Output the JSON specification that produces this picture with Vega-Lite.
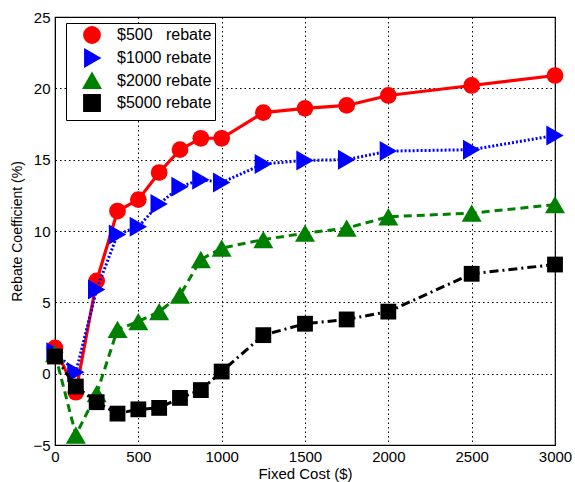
{
  "$schema": "https://vega.github.io/schema/vega-lite/v6.json",
  "width": 500,
  "height": 428,
  "autosize": {"type": "none"},
  "padding": {"left": 55, "top": 17, "right": 20, "bottom": 37},
  "background": "white",
  "config": {
    "font": "Liberation Sans",
    "view": {"stroke": "black", "strokeWidth": 1.2},
    "axis": {
      "labelFont": "Liberation Sans",
      "titleFont": "Liberation Sans",
      "labelFontSize": 15,
      "titleFontSize": 15,
      "titleFontWeight": "normal",
      "labelColor": "black",
      "titleColor": "black",
      "domainColor": "black",
      "tickColor": "black",
      "grid": true,
      "gridColor": "black",
      "gridDash": [1.5, 3],
      "gridOpacity": 1,
      "gridWidth": 1,
      "tickSize": 0
    }
  },
  "data": {
    "values": [
      {"series": "$500 rebate", "cost": 0, "coef": 1.8},
      {"series": "$500 rebate", "cost": 125, "coef": -1.3},
      {"series": "$500 rebate", "cost": 250, "coef": 6.5},
      {"series": "$500 rebate", "cost": 375, "coef": 11.4},
      {"series": "$500 rebate", "cost": 500, "coef": 12.2},
      {"series": "$500 rebate", "cost": 625, "coef": 14.1},
      {"series": "$500 rebate", "cost": 750, "coef": 15.7},
      {"series": "$500 rebate", "cost": 875, "coef": 16.5},
      {"series": "$500 rebate", "cost": 1000, "coef": 16.5},
      {"series": "$500 rebate", "cost": 1250, "coef": 18.3},
      {"series": "$500 rebate", "cost": 1500, "coef": 18.6},
      {"series": "$500 rebate", "cost": 1750, "coef": 18.8},
      {"series": "$500 rebate", "cost": 2000, "coef": 19.5},
      {"series": "$500 rebate", "cost": 2500, "coef": 20.2},
      {"series": "$500 rebate", "cost": 3000, "coef": 20.9},
      {"series": "$1000 rebate", "cost": 0, "coef": 1.5},
      {"series": "$1000 rebate", "cost": 125, "coef": 0.1},
      {"series": "$1000 rebate", "cost": 250, "coef": 5.9},
      {"series": "$1000 rebate", "cost": 375, "coef": 9.75},
      {"series": "$1000 rebate", "cost": 500, "coef": 10.3},
      {"series": "$1000 rebate", "cost": 625, "coef": 11.9},
      {"series": "$1000 rebate", "cost": 750, "coef": 13.1},
      {"series": "$1000 rebate", "cost": 875, "coef": 13.6},
      {"series": "$1000 rebate", "cost": 1000, "coef": 13.4},
      {"series": "$1000 rebate", "cost": 1250, "coef": 14.7},
      {"series": "$1000 rebate", "cost": 1500, "coef": 14.95},
      {"series": "$1000 rebate", "cost": 1750, "coef": 15.0},
      {"series": "$1000 rebate", "cost": 2000, "coef": 15.6},
      {"series": "$1000 rebate", "cost": 2500, "coef": 15.7},
      {"series": "$1000 rebate", "cost": 3000, "coef": 16.7},
      {"series": "$2000 rebate", "cost": 0, "coef": 1.4},
      {"series": "$2000 rebate", "cost": 125, "coef": -4.3},
      {"series": "$2000 rebate", "cost": 250, "coef": -1.4},
      {"series": "$2000 rebate", "cost": 375, "coef": 3.1},
      {"series": "$2000 rebate", "cost": 500, "coef": 3.65},
      {"series": "$2000 rebate", "cost": 625, "coef": 4.35},
      {"series": "$2000 rebate", "cost": 750, "coef": 5.5},
      {"series": "$2000 rebate", "cost": 875, "coef": 8.0},
      {"series": "$2000 rebate", "cost": 1000, "coef": 8.8},
      {"series": "$2000 rebate", "cost": 1250, "coef": 9.4},
      {"series": "$2000 rebate", "cost": 1500, "coef": 9.85},
      {"series": "$2000 rebate", "cost": 1750, "coef": 10.2},
      {"series": "$2000 rebate", "cost": 2000, "coef": 11.0},
      {"series": "$2000 rebate", "cost": 2500, "coef": 11.25},
      {"series": "$2000 rebate", "cost": 3000, "coef": 11.85},
      {"series": "$5000 rebate", "cost": 0, "coef": 1.2},
      {"series": "$5000 rebate", "cost": 125, "coef": -0.9},
      {"series": "$5000 rebate", "cost": 250, "coef": -2.0},
      {"series": "$5000 rebate", "cost": 375, "coef": -2.8},
      {"series": "$5000 rebate", "cost": 500, "coef": -2.5},
      {"series": "$5000 rebate", "cost": 625, "coef": -2.4},
      {"series": "$5000 rebate", "cost": 750, "coef": -1.7},
      {"series": "$5000 rebate", "cost": 875, "coef": -1.15},
      {"series": "$5000 rebate", "cost": 1000, "coef": 0.15},
      {"series": "$5000 rebate", "cost": 1250, "coef": 2.7},
      {"series": "$5000 rebate", "cost": 1500, "coef": 3.5},
      {"series": "$5000 rebate", "cost": 1750, "coef": 3.8},
      {"series": "$5000 rebate", "cost": 2000, "coef": 4.35},
      {"series": "$5000 rebate", "cost": 2500, "coef": 7.0},
      {"series": "$5000 rebate", "cost": 3000, "coef": 7.65}
    ]
  },
  "encoding": {
    "x": {
      "field": "cost", "type": "quantitative",
      "scale": {"domain": [0, 3000], "nice": false},
      "axis": {"values": [0, 500, 1000, 1500, 2000, 2500, 3000], "format": "d", "title": "Fixed Cost ($)", "labelPadding": 4, "titlePadding": 2, "labelFlush": false}
    },
    "y": {
      "field": "coef", "type": "quantitative",
      "scale": {"domain": [-5, 25], "nice": false},
      "axis": {"values": [-5, 0, 5, 10, 15, 20, 25], "title": "Rebate Coefficient (%)", "labelPadding": 5, "titlePadding": 8, "titleFontSize": 14, "labelFlush": false}
    },
    "color": {
      "field": "series", "type": "nominal",
      "scale": {"domain": ["$500 rebate", "$1000 rebate", "$2000 rebate", "$5000 rebate"], "range": ["#ff0000", "#0000ff", "#008000", "#000000"]},
      "legend": {
        "title": null,
        "orient": "none",
        "legendX": 11,
        "legendY": 6,
        "strokeColor": "black",
        "fillColor": "white",
        "padding": 3,
        "rowPadding": -7,
        "labelFontSize": 16,
        "labelColor": "black",
        "labelFont": "Liberation Sans",
        "symbolSize": 220,
        "symbolOffset": 14,
        "labelOffset": 16,
        "symbolStrokeWidth": 3,
        "labelExpr": "datum.label == '$500 rebate' ? '$500\u00a0\u00a0\u00a0rebate' : datum.label"
      }
    },
    "shape": {
      "field": "series", "type": "nominal",
      "scale": {"domain": ["$500 rebate", "$1000 rebate", "$2000 rebate", "$5000 rebate"], "range": ["circle", "triangle-right", "triangle-up", "square"]},
      "legend": null
    }
  },
  "layer": [
    {
      "transform": [{"filter": "datum.series == '$500 rebate'"}],
      "mark": {"type": "line", "strokeWidth": 3.2}
    },
    {
      "transform": [{"filter": "datum.series == '$500 rebate'"}],
      "mark": {"type": "point", "filled": true, "opacity": 1, "size": 280}
    },
    {
      "transform": [{"filter": "datum.series == '$1000 rebate'"}],
      "mark": {"type": "line", "strokeWidth": 3, "strokeDash": [2, 2]}
    },
    {
      "transform": [{"filter": "datum.series == '$1000 rebate'"}],
      "mark": {"type": "point", "filled": true, "opacity": 1, "size": 400}
    },
    {
      "transform": [{"filter": "datum.series == '$2000 rebate'"}],
      "mark": {"type": "line", "strokeWidth": 3, "strokeDash": [8, 5]}
    },
    {
      "transform": [{"filter": "datum.series == '$2000 rebate'"}],
      "mark": {"type": "point", "filled": true, "opacity": 1, "size": 400}
    },
    {
      "transform": [{"filter": "datum.series == '$5000 rebate'"}],
      "mark": {"type": "line", "strokeWidth": 3, "strokeDash": [9, 4, 2, 4]}
    },
    {
      "transform": [{"filter": "datum.series == '$5000 rebate'"}],
      "mark": {"type": "point", "filled": true, "opacity": 1, "size": 250}
    }
  ]
}
